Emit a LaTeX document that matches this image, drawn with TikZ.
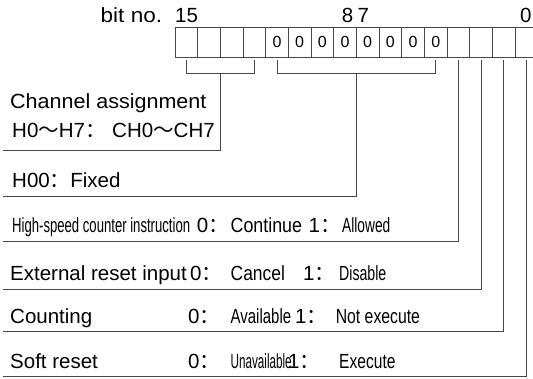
\documentclass[tikz,border=0pt]{standalone}
\usepackage{fontspec}
\setmainfont{Liberation Sans}
\newfontfamily\cjk{Noto Sans CJK SC}
\usetikzlibrary{calc}
\begin{document}
\begin{tikzpicture}[x=1pt,y=-1pt,
  line/.style={draw=black!72,line width=0.9pt},
  cell/.style={draw=black!72,line width=0.9pt,minimum width=22.67pt,minimum height=30.5pt,inner sep=0pt,font=\fontsize{16}{18}\selectfont},
  lbl/.style={anchor=base west,inner sep=0pt,font=\fontsize{20.5}{24}\selectfont},
]
\useasboundingbox (0,0) rectangle (533,379);
% register cells
\foreach \i in {0,...,3,12,13,14,15} {
  \node[cell] (c\i) at ({175+22.67*(\i+0.5)},42.25) {};
}
\foreach \i in {4,...,11} {
  \node[cell] (c\i) at ({175+22.67*(\i+0.5)},42.25) {0};
}
% bit numbers
\node[lbl] (bitno) at (100.5,23) {\scalebox{1.1}[1]{bit no.}};
\node[lbl] (b15) at (175,23) {15};
\node[lbl] (b8) at (341.7,23) {8};
\node[lbl] (b7) at (357.3,23) {7};
\node[lbl] (b0) at (520,23) {0};
% bracket ends and row ends
\coordinate (m1) at ($(c0.south)!0.5!(c3.south)+(0,15.5)$);
\coordinate (m2) at ($(c4.south)!0.5!(c11.south)+(0,15.5)$);
\coordinate (e1) at (3,150);
\coordinate (e2) at (3,196);
\coordinate (e3) at (3,241);
\coordinate (e4) at (3,289);
\coordinate (e5) at (3,331.5);
\coordinate (e6) at (3,376.5);
% brackets
\draw[line] ($(c0.south)+(0,2.5)$) -- ++(0,13) -| ($(c3.south)+(0,2.5)$);
\draw[line] ($(c4.south)+(0,2.5)$) -- ++(0,13) -| ($(c11.south)+(0,2.5)$);
\draw[line] (m1) |- (e1);
\draw[line] (m2) |- (e2);
\draw[line] ($(c12.south)+(0,2.5)$) |- (e3);
\draw[line] ($(c13.south)+(0,2.5)$) |- (e4);
\draw[line] ($(c14.south)+(0,2.5)$) |- (e5);
\draw[line] ($(c15.south)+(0,2.5)$) |- (e6);
% row 1
\node[lbl] (ch) at (10,109) {\scalebox{1.05}[1]{Channel assignment}};
\node[lbl] (hh) at (12,138) {H0{\cjk ～}H7{\cjk ：}};
\node[lbl] (chch) at (112,138) {CH0{\cjk ～}CH7};
% row 2
\node[lbl] (h00) at (12,188) {H00{\cjk ：}Fixed};
% row 3
\node[lbl] (hs) at (12,233) {\scalebox{0.64}[1]{High-speed counter instruction}};
\node[lbl] (hs0) at (196.6,233) {0{\cjk ：}};
\node[lbl] (hsc) at (230.5,233) {\scalebox{0.87}[1]{Continue}};
\node[lbl] (hs1) at (308.5,233) {1{\cjk ：}};
\node[lbl] (hsa) at (342,233) {\scalebox{0.67}[1]{Allowed}};
% row 4
\node[lbl] (ex) at (10,281) {External reset input};
\node[lbl] (ex0) at (190,281) {0{\cjk ：}};
\node[lbl] (exc) at (230.5,281) {\scalebox{0.85}[1]{Cancel}};
\node[lbl] (ex1) at (303,281) {1{\cjk ：}};
\node[lbl] (exd) at (339,281) {\scalebox{0.69}[1]{Disable}};
% row 5
\node[lbl] (co) at (10,324) {Counting};
\node[lbl] (co0) at (188,324) {0{\cjk ：}};
\node[lbl] (coa) at (230.5,324) {\scalebox{0.73}[1]{Available}};
\node[lbl] (co1) at (295,324) {1{\cjk ：}};
\node[lbl] (con) at (335.6,324) {\scalebox{0.77}[1]{Not execute}};
% row 6
\node[lbl] (so) at (10,369) {Soft reset};
\node[lbl] (so0) at (188,369) {0{\cjk ：}};
\node[lbl] (sou) at (230.5,369) {\scalebox{0.57}[1]{Unavailable}};
\node[lbl] (so1) at (288,369) {1{\cjk ：}};
\node[lbl] (soe) at (339,369) {\scalebox{0.76}[1]{Execute}};
\end{tikzpicture}
\end{document}
